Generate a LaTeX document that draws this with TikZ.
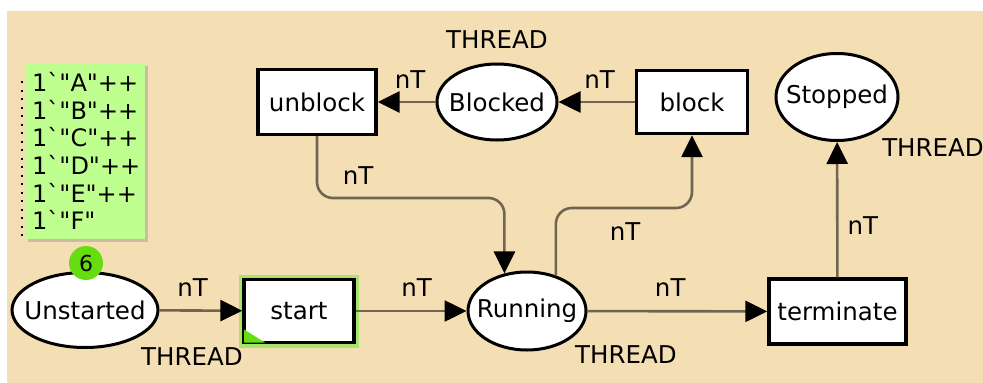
\documentclass[tikz,border=0pt]{standalone}
\usepackage{fontspec}
\newfontfamily\pnfont{DejaVu Sans}
\usetikzlibrary{shapes.geometric, arrows.meta, shadows, positioning}
\definecolor{fondo}{HTML}{F4DEB3}
\definecolor{arco}{HTML}{6F6552}
\definecolor{marca}{HTML}{BFFF90}
\definecolor{ficha}{HTML}{66DD11}
\definecolor{brillo}{HTML}{A8E46C}
\newcommand\ptxt[1]{\makebox[0pt]{#1}}

\begin{document}
\begin{tikzpicture}[x=1pt, y=-1pt,
  >={Triangle[length=22pt, width=21pt, color=black]},
  every node/.style={font=\pnfont\fontsize{24.5}{27}\selectfont},
  place/.style={ellipse, draw, line width=3pt, fill=white, inner sep=0pt},
  transition/.style={rectangle, draw, line width=3.4pt, fill=white, inner sep=0pt},
  arc/.style={->, draw=arco, line width=2.6pt, rounded corners=16pt},
  lbl/.style={inner sep=1pt}]
\useasboundingbox (0,0) rectangle (983,383);
\fill[fondo] (7,11) rectangle (983,383);
% Marcado inicial
\node[fill=marca, anchor=north west, minimum height=176pt, text width=106pt,
  inner xsep=7pt, inner ysep=9pt, align=left,
  font=\pnfont\fontsize{24}{27.6}\selectfont,
  drop shadow={shadow xshift=3pt, shadow yshift=-3pt, opacity=.35}] (marcado) at (25,63)
  {1`"A"++\\1`"B"++\\1`"C"++\\1`"D"++\\1`"E"++\\1`"F"};
\draw[line width=1.6pt, dash pattern=on 2pt off 6.5pt] ([xshift=-3pt, yshift=-18pt]marcado.north west) -- ([xshift=-3pt]marcado.south west);
% Lugares
\node[place, minimum width=146pt, minimum height=75pt] (unstarted) at (85,310) {\ptxt{Unstarted}};
\node[place, minimum width=118pt, minimum height=78pt] (running) at (527,311) {\ptxt{Running}};
\node[place, minimum width=120pt, minimum height=76pt] (blocked) at (497,102) {\ptxt{Blocked}};
\node[place, minimum width=122pt, minimum height=87pt] (stopped) at (837,97) {\ptxt{Stopped}};
\node[circle, fill=ficha, minimum size=34pt, inner sep=0pt,
  font=\pnfont\fontsize{22}{24}\selectfont] (cuenta) at (86,263) {6};
% Tipos
\node[lbl] (tunstarted) at (192,357) {THREAD};
\node[lbl] (trunning) at (626,355) {THREAD};
\node[lbl] (tblocked) at (497,40) {THREAD};
\node[lbl] (tstopped) at (933,148) {THREAD};
% Transiciones
\node[transition, minimum width=118pt, minimum height=65pt] (unblock) at (317,102) {unblock};
\node[transition, minimum width=111pt, minimum height=63pt] (block) at (692,102) {block};
\node[transition, minimum width=110pt, minimum height=63pt,
  preaction={draw=brillo, line width=10pt}] (start) at (299,311) {start};
\fill[ficha] ([shift={(1.7,-1.7)}]start.south west) -- ++(0,-13) -- ++(21,13) -- cycle;
\node[transition, minimum width=137pt, minimum height=65pt] (terminate) at (837.5,311.5) {terminate};
% Arcos
\coordinate (ub) at (358,198);
\coordinate (rb) at (625,208);
\draw[arc] (unstarted) -- node[lbl, above=12pt, pos=.4] {nT} (start);
\draw[arc] (start) -- node[lbl, above=12pt, pos=.55] {nT} (running);
\draw[arc] (running) -- node[lbl, above=12pt, pos=.46] {nT} (terminate);
\draw[arc] (terminate) -- node[lbl, right=8pt, pos=.38] {nT} (stopped);
\draw[arc] (block) -- node[lbl, above=11pt, pos=.46] {nT} (blocked);
\draw[arc] (blocked) -- node[lbl, above=11pt, pos=.44] {nT} (unblock);
\draw[arc] (unblock.south) |- (ub) node[lbl, above=11pt] {nT} -| (running.121);
\draw[arc] (running.51) |- (rb) node[lbl, below=12pt] {nT} -| (block.south);
\end{tikzpicture}
\end{document}
